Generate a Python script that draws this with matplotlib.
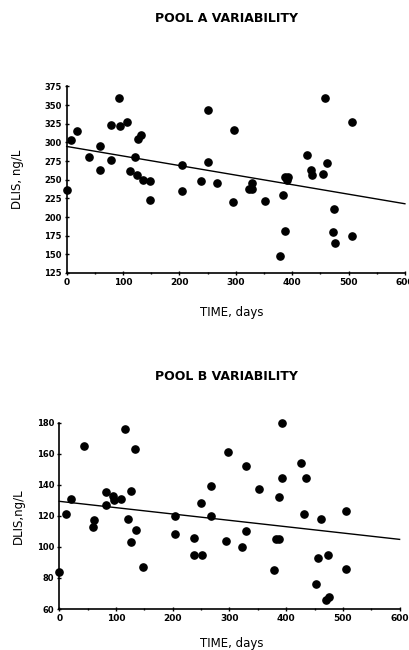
import matplotlib
matplotlib.use("Agg")
import matplotlib.pyplot as plt
import numpy as np

# ---- Pool A data ----
a_days = [0, 8, 18, 40, 59, 59, 79, 79, 92, 95, 107, 112, 121, 126, 131, 125, 136, 147, 147,
          205, 205, 238, 250, 251, 267, 295, 296, 323, 329, 329, 352, 379, 384, 387, 393, 391,
          388, 427, 434, 436, 454, 459, 462, 475, 472, 476, 506, 507]
a_vals = [236, 303, 315, 280, 295, 263, 277, 324, 360, 322, 327, 262, 281, 304, 310, 256, 250, 248, 223,
          270, 235, 248, 344, 274, 246, 220, 316, 238, 238, 246, 222, 148, 230, 254, 254, 249,
          181, 283, 263, 257, 258, 360, 272, 211, 180, 165, 174, 327]
a_fit = [294.6, -0.128]   # intercept, slope

# ---- Pool B data ----
b_days = [0, 11, 20, 43, 61, 60, 82, 82, 95, 96, 109, 116, 122, 127, 127, 134, 136, 147,
          204, 204, 238, 238, 251, 250, 268, 267, 294, 297, 323, 329, 330, 352, 379, 382, 388,
          387, 393, 393, 426, 435, 432, 456, 461, 473, 453, 475, 470, 505, 505]
b_vals = [84, 121, 131, 165, 117, 113, 135, 127, 133, 130, 131, 176, 118, 136, 103, 163, 111, 87,
          120, 108, 106, 95, 95, 128, 139, 120, 104, 161, 100, 110, 152, 137, 85, 105, 105,
          132, 180, 144, 154, 144, 121, 93, 118, 95, 76, 68, 66, 86, 123]
b_fit = [129.3, -0.0408]

a_yticks = [125, 150, 175, 200, 225, 250, 275, 300, 325, 350, 375]
b_yticks = [60, 80, 100, 120, 140, 160, 180]
xticks = [0, 100, 200, 300, 400, 500, 600]

fig = plt.figure(figsize=(4.09, 6.5), dpi=100)

def panel(rect, days, vals, fit, yticks, ylim, title, ylabel, title_y, xlab_y, ylab_x):
    ax = fig.add_axes(rect)
    ax.plot(days, vals, 'o', color='black', ms=5.2, clip_on=False, zorder=3)
    xs = np.array([0, 600])
    ax.plot(xs, fit[0] + fit[1] * xs, color='black', lw=1.0, clip_on=False)
    ax.set_xlim(0, 600)
    ax.set_ylim(*ylim)
    ax.set_xticks(xticks)
    ax.set_xticks([50, 150, 250, 350, 450, 550], minor=True)
    ax.set_yticks(yticks)
    ax.set_xticklabels([str(t) for t in xticks], fontsize=6.5, fontweight='bold')
    ax.set_yticklabels([str(t) for t in yticks], fontsize=6, fontweight='bold')
    ax.tick_params(axis='both', which='major', direction='inout', length=3, width=1, pad=2)
    ax.tick_params(axis='x', which='minor', direction='inout', length=2, width=1)
    for s in ['top', 'right']:
        ax.spines[s].set_visible(False)
    for s in ['left', 'bottom']:
        ax.spines[s].set_linewidth(1.2)
    fig.text(0.553, title_y, title, ha='center', va='center', fontsize=9,
             fontweight='bold')
    fig.text(0.567, xlab_y, 'TIME, days', ha='center', va='center', fontsize=8.5)
    ax.set_ylabel(ylabel, fontsize=8.5)
    ax.yaxis.set_label_coords(ylab_x, 0.5)
    return ax

panel([0.163, 0.580, 0.827, 0.287], a_days, a_vals, a_fit, a_yticks, (125, 375),
      'POOL A VARIABILITY', 'DLIS, ng/L', 1 - 19 / 650, 1 - 313 / 650, -0.125)
panel([0.145, 0.063, 0.832, 0.287], b_days, b_vals, b_fit, b_yticks, (60, 180),
      'POOL B VARIABILITY', 'DLIS,ng/L', 1 - 376 / 650, 1 - 643 / 650, -0.1)

fig.savefig('out.png', dpi=100)
